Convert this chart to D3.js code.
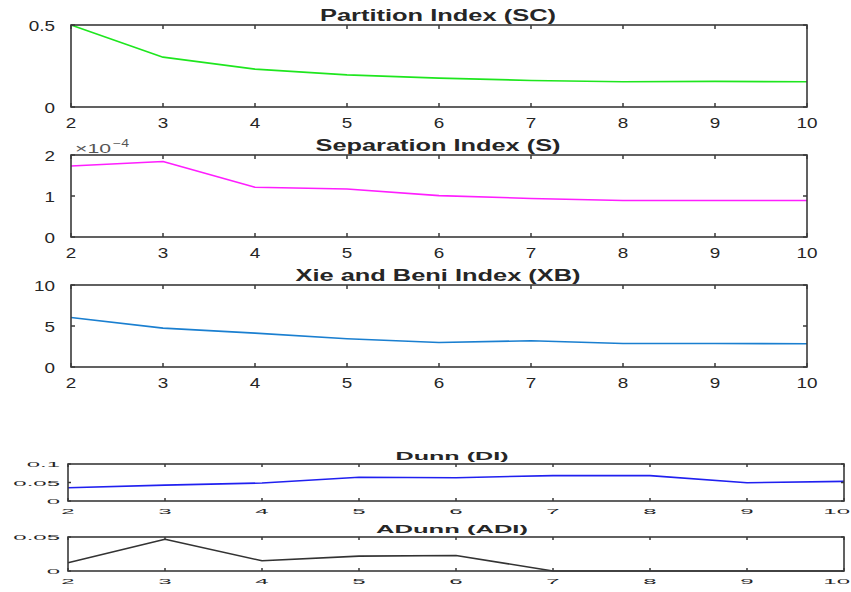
<!DOCTYPE html>
<html>
<head>
<meta charset="utf-8">
<script src="https://cdn.jsdelivr.net/npm/d3@7/dist/d3.min.js"></script>
<style>
  html, body { margin: 0; padding: 0; background: #fff; }
  svg { display: block; }
  text { font-family: "Liberation Sans", Arial, Helvetica, sans-serif; fill: #262626; }
</style>
</head>
<body>
<svg id="chart" width="851" height="592"></svg>
<script>
// Number of clusters evaluated
const clusters = [2, 3, 4, 5, 6, 7, 8, 9, 10];

// Validity indices per cluster count
const partitionSC = [0.5, 0.304, 0.231, 0.196, 0.176, 0.162, 0.154, 0.156, 0.154];
const separationS = [1.733, 1.84, 1.215, 1.17, 1.01, 0.94, 0.89, 0.89, 0.89]; // ×10^-4
const xieBeniXB   = [6.03, 4.74, 4.13, 3.44, 2.99, 3.2, 2.87, 2.87, 2.83];
const dunnDI      = [0.0357, 0.043, 0.0486, 0.064, 0.063, 0.0687, 0.0687, 0.0495, 0.053];
const adunnADI    = [0.0121, 0.0466, 0.015, 0.0219, 0.0229, 0, 0, 0, 0];

// Panel titles and y tick values
const titles = ["Partition Index (SC)", "Separation Index (S)", "Xie and Beni Index (XB)", "Dunn (DI)", "ADunn (ADI)"];
const yTicksSC = [0, 0.5];
const yTicksS  = [0, 1, 2];
const yTicksXB = [0, 5, 10];
const yTicksDI = [0, 0.05, 0.1];
const yTicksADI = [0, 0.05];
const yTickLabelsDI = ["0", "0.05", "0.1"];
const yTickLabelsADI = ["0", "0.05"];

const W = 851;
const svg = d3.select("#chart");

const panels = [
  { values: partitionSC, title: titles[0], ymax: 0.5,  yTicks: yTicksSC, yLabels: ["0", "0.5"], color: "#1ee61e",
    x0: 71, x1: 807, yt: 25, yb: 107, small: false, titleW: 236 },
  { values: separationS, title: titles[1], ymax: 2,    yTicks: yTicksS, yLabels: ["0", "1", "2"], color: "#ff1eff",
    x0: 71, x1: 807, yt: 155, yb: 237, small: false, titleW: 245, exponent: true },
  { values: xieBeniXB,   title: titles[2], ymax: 10,   yTicks: yTicksXB, yLabels: ["0", "5", "10"], color: "#1a7fd0",
    x0: 71, x1: 807, yt: 285, yb: 367, small: false, titleW: 285 },
  { values: dunnDI,      title: titles[3], ymax: 0.1,  yTicks: yTicksDI, yLabels: yTickLabelsDI, color: "#2020f0",
    x0: 68, x1: 844, yt: 464, yb: 501, small: true, titleW: 113 },
  { values: adunnADI,    title: titles[4], ymax: 0.05, yTicks: yTicksADI, yLabels: yTickLabelsADI, color: "#333333",
    x0: 68, x1: 844, yt: 537, yb: 571, small: true, titleW: 152 }
];

// Horizontally stretched text helper
function stretchedText(g, x, y, str, opts) {
  const t = g.append("g").attr("transform", `translate(${x},${y}) scale(${opts.sx},${opts.sy})`)
    .append("text")
    .attr("text-anchor", opts.anchor || "middle")
    .attr("font-size", opts.size)
    .text(str);
  if (opts.bold) t.attr("font-weight", "bold");
  return t;
}

panels.forEach(p => {
  const x = d3.scaleLinear().domain([2, 10]).range([p.x0, p.x1]);
  const y = d3.scaleLinear().domain([0, p.ymax]).range([p.yb, p.yt]);
  const g = svg.append("g");
  const tl = p.small ? 3 : 4;
  const axisColor = "#3a3a3a";

  // data line
  g.append("path")
    .datum(p.values)
    .attr("fill", "none")
    .attr("stroke", p.color)
    .attr("stroke-width", 1.6)
    .attr("stroke-linejoin", "round")
    .attr("d", d3.line().x((d, i) => x(clusters[i])).y(d => y(d)));

  // x ticks (inside, top and bottom)
  clusters.forEach(v => {
    g.append("line").attr("x1", x(v)).attr("x2", x(v)).attr("y1", p.yb).attr("y2", p.yb - tl)
      .attr("stroke", axisColor).attr("stroke-width", 1.5);
    g.append("line").attr("x1", x(v)).attr("x2", x(v)).attr("y1", p.yt).attr("y2", p.yt + tl)
      .attr("stroke", axisColor).attr("stroke-width", 1.5);
  });
  // y ticks (inside, left and right)
  p.yTicks.forEach(v => {
    g.append("line").attr("x1", p.x0).attr("x2", p.x0 + tl).attr("y1", y(v)).attr("y2", y(v))
      .attr("stroke", axisColor).attr("stroke-width", 1.5);
    g.append("line").attr("x1", p.x1).attr("x2", p.x1 - tl).attr("y1", y(v)).attr("y2", y(v))
      .attr("stroke", axisColor).attr("stroke-width", 1.5);
  });

  // box
  g.append("rect")
    .attr("x", p.x0).attr("y", p.yt)
    .attr("width", p.x1 - p.x0).attr("height", p.yb - p.yt)
    .attr("fill", "none").attr("stroke", axisColor).attr("stroke-width", 1.6);

  // tick labels
  const lab = p.small
    ? { size: 10, sx: 2.4, sy: 0.8 }
    : { size: 14, sx: 1.35, sy: 1 };
  const xLabDy = p.small ? 13 : 21;
  clusters.forEach(v => {
    // keep the rightmost label inside the page
    const halfW = String(v).length * 0.556 * lab.size * lab.sx / 2;
    const cx = Math.min(x(v), W - 1 - halfW);
    stretchedText(g, cx, p.yb + xLabDy, String(v), lab);
  });
  p.yTicks.forEach((v, i) => {
    const rx = p.small ? p.x0 - 8 : p.x0 - 16;
    const dy = p.small ? 3 : 6;
    stretchedText(g, rx, y(v) + dy, p.yLabels[i], Object.assign({ anchor: "end" }, lab));
  });

  // title
  const cx = p.small ? 452 : 438;
  g.append("text")
    .attr("x", cx).attr("y", p.yt - 4)
    .attr("text-anchor", "middle")
    .attr("font-weight", "bold")
    .attr("font-size", p.small ? 11 : 16)
    .attr("textLength", p.titleW)
    .attr("lengthAdjust", "spacingAndGlyphs")
    .text(p.title);

  // exponent label
  if (p.exponent) {
    g.append("text").attr("x", 75).attr("y", p.yt - 2).attr("font-size", 13)
      .attr("textLength", 36).attr("lengthAdjust", "spacingAndGlyphs")
      .style("fill", "#555").text("×10");
    g.append("text").attr("x", 113).attr("y", p.yt - 8).attr("font-size", 10)
      .attr("textLength", 16).attr("lengthAdjust", "spacingAndGlyphs")
      .style("fill", "#555").text("−4");
  }
});
</script>
</body>
</html>
